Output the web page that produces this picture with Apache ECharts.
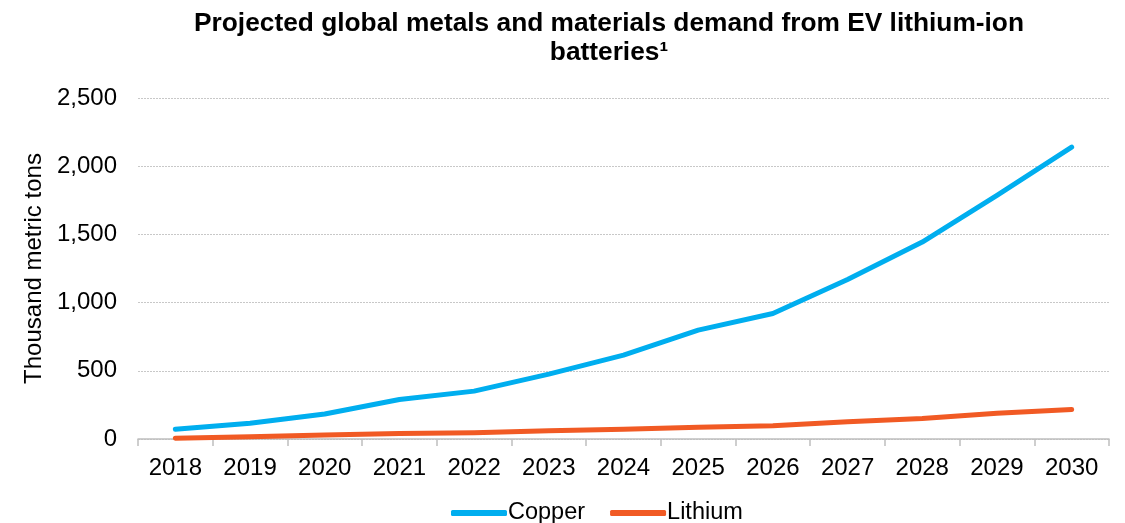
<!DOCTYPE html>
<html><head><meta charset="utf-8">
<script src="https://cdn.jsdelivr.net/npm/echarts@6/dist/echarts.min.js"></script>
<style>html,body{margin:0;padding:0;background:#fff}#c{width:1125px;height:523px}</style>
</head><body><div id="c"></div>
<script>
const years = ['2018','2019','2020','2021','2022','2023','2024','2025','2026','2027','2028','2029','2030'];
const copper = [71,115,183,290,351,476,615,798,920,1169,1444,1786,2140];
const lithium = [5,17,29,40,46,61,72,86,97,127,151,188,217];
const yTicks = [0,500,1000,1500,2000,2500];
const chart = echarts.init(document.getElementById('c'));
const F = 'Liberation Sans, Arial, sans-serif';
chart.setOption({
  animation:false,
  title:{text:'Projected global metals and materials demand from EV lithium-ion\nbatteries¹',
    left:604, top:4, textAlign:'center',
    textStyle:{fontFamily:F,fontSize:26.3,fontWeight:'bold',color:'#000',lineHeight:29}},
  grid:{left:138,right:16,top:98,bottom:84},
  legend:{top:496,left:446,itemWidth:56,itemHeight:6,itemGap:25,icon:'roundRect',
    textStyle:{fontFamily:F,fontSize:23.5,color:'#000',padding:[0,0,0,-4]},
    data:['Copper','Lithium']},
  xAxis:{type:'category',data:years,boundaryGap:true,
    axisLine:{lineStyle:{color:'#bfbfbf',width:1.5}},
    axisTick:{show:true,length:7,lineStyle:{color:'#bfbfbf',width:1.5}},
    axisLabel:{fontFamily:F,fontSize:24,color:'#000',margin:17}},
  yAxis:{type:'value',min:0,max:2500,interval:500,
    name:'Thousand metric tons',nameLocation:'middle',nameGap:86,
    nameTextStyle:{fontFamily:F,fontSize:24,color:'#000'},
    axisLine:{show:false},axisTick:{show:false},
    axisLabel:{fontFamily:F,fontSize:24,color:'#000',margin:21,
      formatter:v=>yTicks.includes(v)?v.toLocaleString('en-US'):''},
    splitLine:{lineStyle:{color:'#c8c8c8',type:[2,1],width:1}}},
  series:[
    {name:'Copper',type:'line',data:copper,symbol:'none',lineStyle:{color:'#00AEEF',width:5,cap:'round',join:'round'},itemStyle:{color:'#00AEEF'}},
    {name:'Lithium',type:'line',data:lithium,symbol:'none',lineStyle:{color:'#F15A24',width:5,cap:'round',join:'round'},itemStyle:{color:'#F15A24'}}
  ]
});
</script></body></html>
